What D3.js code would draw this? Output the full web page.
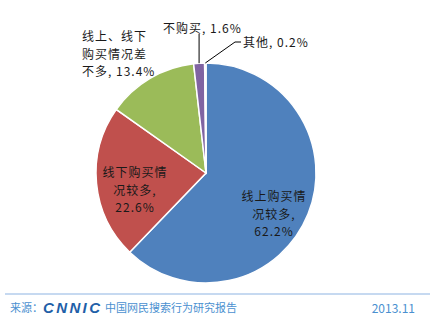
<!DOCTYPE html>
<html>
<head>
<meta charset="utf-8">
<script src="https://cdn.jsdelivr.net/npm/d3@7"></script>
<style>
  body { margin: 0; background: #fff; }
  svg { display: block; font-family: "Noto Sans CJK SC", "Noto Sans", sans-serif; }
</style>
</head>
<body>
<div id="chart"></div>
<script>
// data
var categories = ["线上购买情况较多", "线下购买情况较多", "线上、线下购买情况差不多", "不购买", "其他"];
var shares = [62.2, 22.6, 13.4, 1.6, 0.2];
var labelLines = [
  ["线上购买情", "况较多,", "62.2%"],
  ["线下购买情", "况较多,", "22.6%"],
  ["线上、线下", "购买情况差", "不多, 13.4%"],
  ["不购买, 1.6%"],
  ["其他, 0.2%"]
];
var sourceText = "来源：";
var reportText = "中国网民搜索行为研究报告";
var dateText = "2013.11";

var colors = ["#4f81bd", "#c0504d", "#9bbb59", "#8064a2", "#4bacc6"];

var width = 438, height = 323;
var cx = 206, cy = 173, radius = 110;

var svg = d3.select("#chart").append("svg")
  .attr("width", width)
  .attr("height", height);

var pieData = d3.pie().sort(null).value(function(d){ return d; })(shares);
var arc = d3.arc().innerRadius(0).outerRadius(radius);

var g = svg.append("g").attr("transform", "translate(" + cx + "," + cy + ")");

g.selectAll("path.slice")
  .data(pieData)
  .enter()
  .append("path")
  .attr("class", "slice")
  .attr("d", arc)
  .attr("fill", function(d, i){ return colors[i]; })
  .attr("stroke", "#fff")
  .attr("stroke-width", 1.5);

// label layout (text anchor point per slice, relative to page)
var labelLayout = [
  {x: 274, y: 195, anchor: "middle"},
  {x: 135, y: 171, anchor: "middle"},
  {x: 82,  y: 35,  anchor: "start"},
  {x: 163, y: 27,  anchor: "start"},
  {x: 243, y: 41,  anchor: "start"}
];
var lineH = 17.5;

labelLines.forEach(function(lines, i){
  var p = labelLayout[i];
  var t = svg.append("text")
    .attr("x", p.x)
    .attr("y", p.y)
    .attr("text-anchor", p.anchor)
    .attr("dominant-baseline", "central")
    .attr("font-size", 12)
    .attr("letter-spacing", 1)
    .attr("fill", "#1a1a1a");
  lines.forEach(function(s, k){
    t.append("tspan").attr("x", p.x).attr("y", p.y + k * lineH).text(s);
  });
});

// leader lines for the two small slices
var edge = d3.arc().innerRadius(radius).outerRadius(radius);
var pBuy = edge.centroid(pieData[3]);
svg.append("path")
  .attr("d", "M" + (cx + pBuy[0]) + "," + (cy + pBuy[1]) + "V34")
  .attr("stroke", "#000").attr("fill", "none").attr("stroke-width", 1);

var pOther = edge.centroid(pieData[4]);
svg.append("path")
  .attr("d", "M" + (cx + pOther[0]) + "," + (cy + pOther[1]) + "L235,42H241")
  .attr("stroke", "#000").attr("fill", "none").attr("stroke-width", 1);

// footer
svg.append("line")
  .attr("x1", 5).attr("x2", 430)
  .attr("y1", 294).attr("y2", 294)
  .attr("stroke", "#8db3e2").attr("stroke-width", 1);

svg.append("text")
  .attr("x", 10).attr("y", 307)
  .attr("dominant-baseline", "central")
  .attr("font-size", 11)
  .attr("fill", "#4a90d0")
  .text(sourceText);

svg.append("text")
  .attr("x", 43).attr("y", 307)
  .attr("dominant-baseline", "central")
  .attr("font-size", 15)
  .attr("font-weight", "bold")
  .attr("font-style", "italic")
  .attr("font-family", "Liberation Sans, sans-serif")
  .attr("textLength", 57)
  .attr("fill", "#1f5fa8")
  .text("CNNIC");

svg.append("text")
  .attr("x", 105).attr("y", 307)
  .attr("dominant-baseline", "central")
  .attr("font-size", 11)
  .attr("fill", "#4a90d0")
  .text(reportText);

svg.append("text")
  .attr("x", 415).attr("y", 307)
  .attr("text-anchor", "end")
  .attr("dominant-baseline", "central")
  .attr("font-size", 12)
  .attr("fill", "#4a90d0")
  .text(dateText);
</script>
</body>
</html>
